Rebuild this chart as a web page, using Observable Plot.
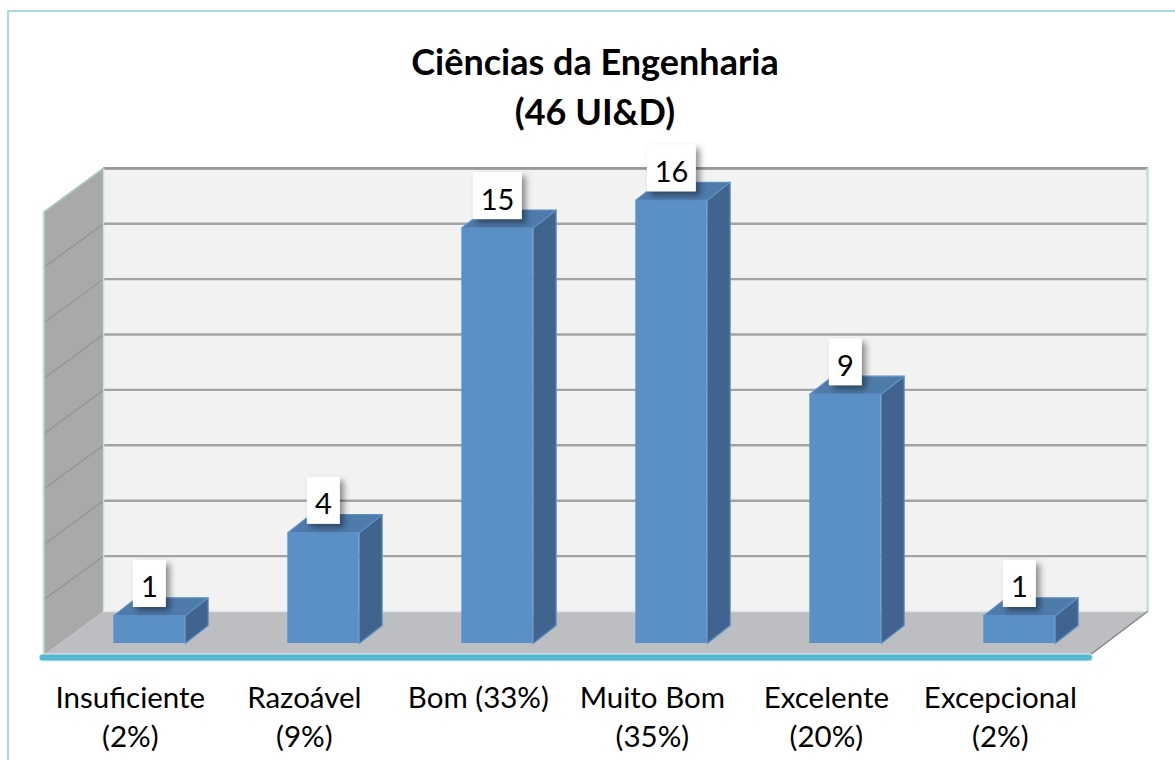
<!DOCTYPE html>
<html lang="pt">
<head>
<meta charset="utf-8">
<title>Ciências da Engenharia</title>
<script src="https://cdn.jsdelivr.net/npm/d3@7"></script>
<script src="https://cdn.jsdelivr.net/npm/@observablehq/plot@0.6"></script>
<style>
html,body{margin:0;padding:0;background:#fff;overflow:hidden;width:1175px;height:760px}
#panel{position:absolute;left:7px;top:10px;width:1168px;height:750px;border-left:2px solid #a8dbe8;border-top:2px solid #a8dbe8;box-sizing:border-box}
#title{height:128px;box-sizing:border-box;padding-top:24px;padding-bottom:1px;width:1178px;margin-left:-3px;text-align:center;font:700 36px/50px Lato,sans-serif;color:#000}
#chart svg{display:block}
</style>
</head>
<body>
<div id="panel">
  <div id="title">Ciências da Engenharia<br>(46 UI&amp;D)</div>
  <div id="chart"></div>
</div>
<script>
const categories = ["Insuficiente\n(2%)", "Razoável\n(9%)", "Bom (33%)", "Muito Bom\n(35%)", "Excelente\n(20%)", "Excepcional\n(2%)"];
const values = [1, 4, 15, 16, 9, 1];
const gridTicks = [0, 2, 4, 6, 8, 10, 12, 14, 16];

// depth offsets of the pseudo-3D box, in scale units
const barW = 0.205, barDX = 0.132, barDY = 0.65;
const wallX0 = -0.264, wallX1 = 5.736, backDY = 1.155;
const floorX0 = -0.609, floorX1 = 5.402, frontDY = -0.433;

const rows = values.map((v, i) => ({i, v, label: String(v), cat: categories[i]}));
const poly = (id, pts) => pts.map(([x, y]) => ({id, x, y}));

const sideFaces = rows.flatMap(d => poly(d.i, [
  [d.i + barW, 0], [d.i + barW + barDX, barDY], [d.i + barW + barDX, d.v + barDY], [d.i + barW, d.v]
]));
const topFaces = rows.flatMap(d => poly(d.i, [
  [d.i - barW, d.v], [d.i + barW, d.v], [d.i + barW + barDX, d.v + barDY], [d.i - barW + barDX, d.v + barDY]
]));
const leftWall = poly("w", [
  [floorX0, frontDY], [wallX0, backDY], [wallX0, 16 + backDY], [floorX0, 16 + frontDY]
]);
const floor = poly("f", [
  [floorX0, frontDY], [wallX0, backDY], [wallX1, backDY], [floorX1, frontDY]
]);
const leftGrid = gridTicks.slice(1).flatMap(t => poly(t, [[floorX0, t + frontDY], [wallX0, t + backDY]]));
const boxW = d => d.label.length > 1 ? 0.141 : 0.095;
const shadow = (index, scales, values, dimensions, context, next) => {
  const g = next(index, scales, values, dimensions, context);
  g.style.filter = "drop-shadow(4px 4px 3px rgba(0,0,0,.42))";
  return g;
};

const plot = Plot.plot({
  width: 1166, height: 620,
  margin: 0,
  style: {background: "transparent", fontFamily: "Lato, sans-serif", color: "#000"},
  x: {domain: [-0.8046, 5.8966], range: [0, 1166], axis: null},
  y: {domain: [-4.225, 18.16], range: [620, 0], axis: null},
  marks: [
    // back wall, floor, left wall
    Plot.rect([0], {x1: wallX0, x2: wallX1, y1: backDY, y2: 16 + backDY, fill: "#f2f2f2"}),
    Plot.line(leftWall, {x: "x", y: "y", z: "id", curve: "linear-closed", fill: "#a9a9a9", stroke: "none"}),
    Plot.line(floor, {x: "x", y: "y", z: "id", curve: "linear-closed", fill: "#bcbec2", stroke: "none"}),
    // grid
    Plot.ruleY(gridTicks.slice(1), {x1: wallX0, x2: wallX1, y: t => t + backDY, stroke: "#a3a3a3", strokeWidth: 2.4}),
    Plot.ruleY([16], {x1: wallX0, x2: wallX1 + 0.005, y: t => t + backDY, stroke: "#999999", strokeWidth: 2.6}),
    Plot.line(leftGrid, {x: "x", y: "y", z: "id", stroke: "#939393", strokeWidth: 1.2}),
    // wall edges
    Plot.ruleX([wallX0], {y1: backDY, y2: 16 + backDY, stroke: "#c6e0dc", strokeWidth: 1.5}),
    Plot.ruleX([wallX1], {y1: backDY, y2: 16 + backDY, stroke: "#c3dfda", strokeWidth: 2.5}),
    Plot.ruleX([floorX0], {y1: frontDY, y2: 16 + frontDY, stroke: "#c3dfda", strokeWidth: 2}),
    Plot.line(poly("e", [[floorX0, 16 + frontDY], [wallX0, 16 + backDY]]), {x: "x", y: "y", stroke: "#a9cfca", strokeWidth: 1.5}),
    Plot.ruleY([backDY], {x1: wallX0, x2: wallX1, stroke: "#dfe3e2", strokeWidth: 1.5}),
    Plot.line(poly("r", [[wallX1, backDY], [floorX1, frontDY]]), {x: "x", y: "y", stroke: "#858585", strokeWidth: 1.5}),
    // axis line
    Plot.ruleY([frontDY - 0.07], {x1: floorX0 - 0.002, x2: floorX1, stroke: "#d8eef2", strokeWidth: 8, strokeLinecap: "round"}),
    Plot.ruleY([frontDY - 0.07], {x1: floorX0 - 0.002, x2: floorX1, stroke: "#56b8d0", strokeWidth: 6, strokeLinecap: "round"}),
    // bars
    Plot.line(sideFaces, {x: "x", y: "y", z: "id", curve: "linear-closed", fill: "#41648f", stroke: "#5b90c6", strokeWidth: 1.2}),
    Plot.line(topFaces, {x: "x", y: "y", z: "id", curve: "linear-closed", fill: "#4f7bab", stroke: "#5b90c6", strokeWidth: 1.2}),
    Plot.rect(rows, {x1: d => d.i - barW, x2: d => d.i + barW, y1: 0, y2: "v", fill: "#5b90c6"}),
    // value labels
    Plot.rect(rows, {
      render: shadow,
      x1: d => d.i + 0.002 - boxW(d), x2: d => d.i + 0.002 + boxW(d),
      y1: d => d.v + 0.3, y2: d => d.v + 2.0, fill: "#fff"
    }),
    Plot.text(rows, {x: "i", y: d => d.v + 1.0, text: "label", fontSize: 29, fill: "#000"}),
    // category labels
    Plot.text(rows, {x: d => d.i - 0.11, y: -1.33, text: "cat", fontSize: 29.5, lineAnchor: "top", lineHeight: 1.32, fill: "#000"})
  ]
});
document.getElementById("chart").append(plot);
</script>
</body>
</html>
